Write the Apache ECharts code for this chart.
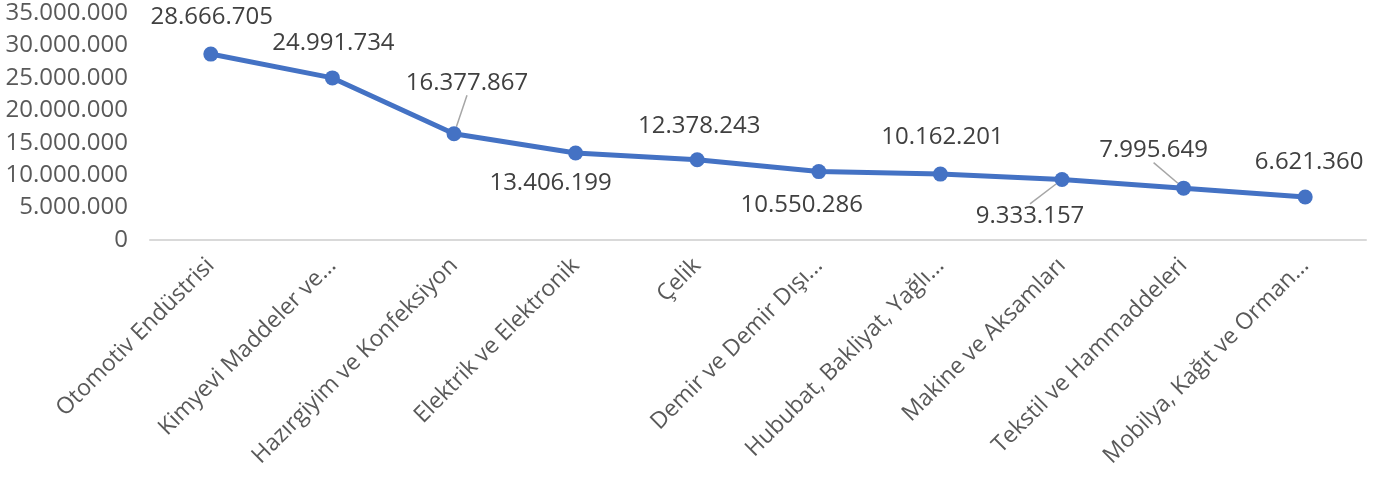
<!DOCTYPE html>
<html>
<head>
<meta charset="utf-8">
<script src="https://cdn.jsdelivr.net/npm/echarts@6/dist/echarts.min.js"></script>
<style>
  html, body { margin: 0; padding: 0; background: #fff; }
  #chart { width: 1376px; height: 485px; }
</style>
</head>
<body>
<div id="chart"></div>
<script>
// sektörler
const categories = [
  'Otomotiv Endüstrisi',
  'Kimyevi Maddeler ve...',
  'Hazırgiyim ve Konfeksiyon',
  'Elektrik ve Elektronik',
  'Çelik',
  'Demir ve Demir Dışı...',
  'Hububat, Bakliyat, Yağlı...',
  'Makine ve Aksamları',
  'Tekstil ve Hammaddeleri',
  'Mobilya, Kağıt ve Orman...'
];
const values = [28666705, 24991734, 16377867, 13406199, 12378243, 10550286, 10162201, 9333157, 7995649, 6621360];
// etiket kaydırmaları (px) ve kılavuz çizgisi
const labelDx = [1, 1, 13, -25, 2, -17, 2, -32, -30, 4];
const labelDy = [-12, -10, -26, 55, -9, 58, -12, 61, -13, -10];
const leader = [false, false, true, false, false, false, false, true, true, false];

const fmt = v => String(v).replace(/\B(?=(\d{3})+(?!\d))/g, '.');

const chart = echarts.init(document.getElementById('chart'));
chart.setOption({
  animation: false,
  grid: { left: 150, right: 10, top: 13, bottom: 245 },
  xAxis: {
    type: 'category',
    data: categories,
    boundaryGap: true,
    axisLine: { lineStyle: { color: '#d9d9d9', width: 2 } },
    axisTick: { show: false },
    axisLabel: {
      interval: 0,
      rotate: 45,
      margin: 22,
      color: '#595959',
      fontFamily: 'Open Sans',
      fontSize: 23
    }
  },
  yAxis: {
    type: 'value',
    min: 0,
    max: 35000000,
    interval: 5000000,
    splitLine: { show: false },
    axisLine: { show: false },
    axisTick: { show: false },
    axisLabel: {
      margin: 22,
      color: '#595959',
      fontFamily: 'Open Sans',
      fontSize: 24,
      formatter: fmt
    }
  },
  series: [{
    type: 'line',
    data: values.map((v, i) => ({
      value: v,
      labelLine: { show: leader[i] }
    })),
    symbol: 'circle',
    symbolSize: 15,
    itemStyle: { color: '#4472c4' },
    lineStyle: { color: '#4472c4', width: 5 },
    label: {
      show: true,
      position: 'top',
      color: '#404040',
      fontFamily: 'Open Sans',
      fontSize: 24,
      formatter: p => fmt(p.value)
    },
    labelLine: { lineStyle: { color: '#a6a6a6', width: 1.5 } },
    labelLayout: p => ({ dx: labelDx[p.dataIndex], dy: labelDy[p.dataIndex] })
  }]
});
</script>
</body>
</html>
